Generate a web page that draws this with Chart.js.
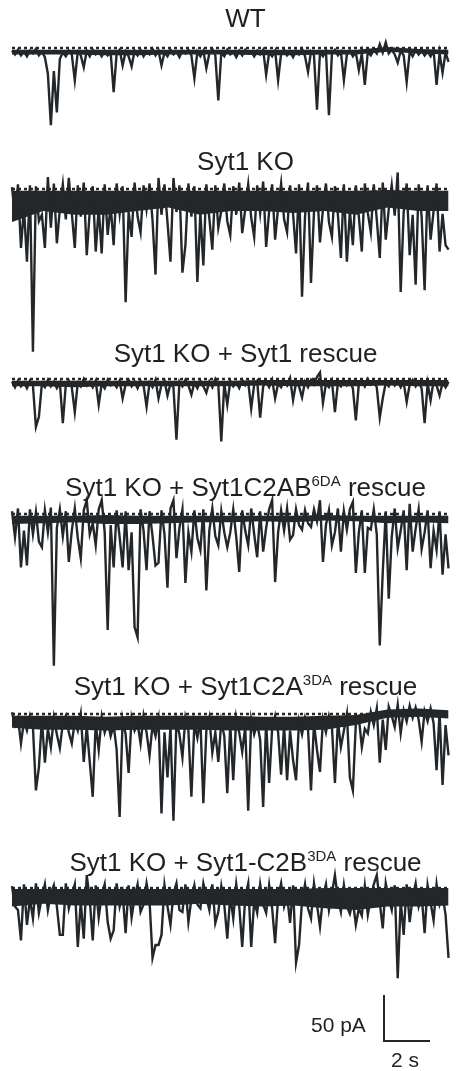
<!DOCTYPE html>
<html>
<head>
<meta charset="utf-8">
<script src="https://cdn.jsdelivr.net/npm/chart.js@4.4.0/dist/chart.umd.min.js"></script>
<style>
  body { margin: 0; background: #fff; }
  #wrap { position: relative; width: 459px; height: 1071px; overflow: hidden; }
  #fig { position: absolute; left: 0; top: 0; }
  .ttl { position: absolute; left: 16px; width: 459px; text-align: center; color: #231f20;
         font-family: "Liberation Sans", Arial, sans-serif; font-size: 26px; line-height: 26px;
         white-space: nowrap; }
  .ttl span { font-size: 15px; position: relative; top: -10px; }
  .lbl { position: absolute; color: #231f20; font-family: "Liberation Sans", Arial, sans-serif;
         font-size: 21px; line-height: 22px; }
</style>
</head>
<body>
<div id="wrap">
  <canvas id="fig" width="459" height="1071"></canvas>
  <div class="ttl" style="top:5px">WT</div>
  <div class="ttl" style="top:148px">Syt1 KO</div>
  <div class="ttl" style="top:340px">Syt1 KO + Syt1 rescue</div>
  <div class="ttl" style="top:474px">Syt1 KO + Syt1C2AB<span>6DA</span> rescue</div>
  <div class="ttl" style="top:673px">Syt1 KO + Syt1C2A<span>3DA</span> rescue</div>
  <div class="ttl" style="top:849px">Syt1 KO + Syt1-C2B<span>3DA</span> rescue</div>
  <div class="lbl" style="left:311px;top:1014px">50 pA</div>
  <div class="lbl" style="left:391px;top:1049px">2 s</div>
</div>
<script>
// sampling interval of the traces (s)
const dt = 0.13;
// sampling interval of the noise envelopes (s)
const bandDt = 1.36;

// currents in pA, relative to each trace's baseline
const wt = [-3, -7, -2, -8, -4, -9, -3, -6, -1, -8,
  -4, -10, -28, -84, -25, -70, -12, -5, -9, -3,
  -7, -35, -4, -8, -21, -3, -9, -2, -7, -4,
  -9, -3, -8, -5, -48, -6, -2, -19, -4, -9,
  -20, -3, -8, -2, -9, -4, -7, -1, -8, -3,
  -19, -5, -9, -2, -7, -4, -10, -3, -6, -2,
  -8, -33, -4, -9, -3, -22, -6, -1, -8, -57,
  -5, -9, -2, -7, -4, -10, -3, -8, -2, -6,
  -4, -9, -3, -7, -2, -29, -5, -9, -3, -35,
  -6, -2, -8, -4, -10, -3, -7, -1, -9, -26,
  -4, -8, -67, -5, -9, -3, -73, -6, -2, -8,
  -4, -35, -7, -3, -9, -5, -24, -6, -40, -4,
  -8, -2, -6, 4, -5, 6, -6, -2, -7, -16,
  -3, -8, -37, -4, -9, -2, -7, -3, -8, -4,
  -9, -3, -40, -6, -27, -5, -15];

const ko = [2, -30, 5, -64, -20, -79, 4, -177, 3, -35,
  -28, -64, 13, -42, 6, -59, -22, 5, -33, 12,
  -26, -64, 4, -30, 7, -72, -24, 3, -68, -20,
  -70, 5, -50, -18, -61, 6, -27, 3, -123, -25,
  -52, 7, -30, -47, 4, -22, 6, -34, -93, 12,
  -28, 5, -36, -79, 12, -25, 4, -91, -61, 6,
  -30, 3, -101, -26, -83, 5, -32, -66, 4, -42,
  -24, 6, -35, -50, 3, -28, 7, -48, -22, 5,
  -31, -52, 4, -26, 8, -63, -24, 5, -55, -20,
  6, -33, -47, 4, -27, -70, 5, -117, -30, 7,
  -102, -25, 4, -58, -22, 6, -36, -52, 3, -28,
  -75, 5, -79, -24, -61, 4, -30, -68, 6, -26,
  -47, 5, -33, -75, 7, -55, -22, 4, -29, 18,
  -112, -25, 6, -72, -28, -104, 5, -30, -110, 4,
  -55, -24, 6, -68, -27, -61, -66];

const rescue = [-3, -9, -2, -8, -4, -10, -2, -7, -52, -41,
  -5, -9, -1, -8, -3, -10, -4, -48, -6, -2,
  -9, -36, -4, -8, 0, -7, -3, -9, -2, -28,
  -5, -10, -1, -7, -4, -9, -2, -21, -6, -1,
  -8, -3, -10, -2, -7, -30, -4, -9, -1, -21,
  -6, -2, -18, -5, -9, -66, -3, -8, -1, -7,
  -17, -4, -10, -2, -8, -15, -3, -9, 0, -6,
  -68, -5, -28, -2, -8, -4, -10, -1, -7, -3,
  -32, -6, -2, -42, -8, -3, -9, -1, -21, -5,
  -9, -2, -7, 1, -23, -4, -8, -20, -3, -9,
  -1, -6, 2, 7, -26, -5, -9, -2, -36, -4,
  -8, -1, -7, -3, -10, -45, -5, -2, -8, 0,
  -6, -3, -9, -42, -21, -4, -8, -1, -7, -2,
  -9, -4, -25, -6, -1, -8, -3, -10, -48, -5,
  -23, -2, -7, -18, -4, -9, -3];

const c2ab6da = [3, -25, 6, -58, -18, -56, 5, -22, 2, -30,
  -36, 4, -20, 7, -165, -15, 5, -24, 3, -52,
  -18, 6, -26, -48, 4, 15, -22, -10, -34, 5,
  15, -20, -126, -12, -58, 4, -25, -58, 3, -61,
  -20, -123, -134, 5, -18, -61, 3, -24, -56, -53,
  4, -22, -80, 6, 15, -48, -15, 5, -75, -20,
  -41, 4, -26, -39, 5, -83, -18, 6, -24, -34,
  3, -20, -36, -20, 5, -25, -63, 4, -18, -34,
  6, -22, -47, 3, -41, -15, 5, 15, -74, -20,
  4, -18, 6, -28, -23, 5, -12, -17, 4, -10,
  -14, 5, -8, 15, -52, -12, 4, -34, -20, 6,
  -41, 3, -17, 5, 13, -64, -20, 4, -64, -15,
  -17, 5, -22, -143, -63, 3, -92, -25, 6, -37,
  -18, 4, -61, 11, -41, -16, 5, -38, -20, 4,
  -59, -18, -39, 3, -66, -22, -59];

const c2a3da = [2, -12, -4, -32, -8, -18, -2, -14, -83, -58,
  -6, -53, -16, -36, -4, -22, -37, -10, -2, -20,
  -32, -8, -18, 0, -52, -14, -52, -90, -10, -39,
  -3, -20, -8, -24, -12, -39, -112, -6, -22, -64,
  -4, -18, -10, -32, -2, -20, -45, -12, -24, -6,
  -108, -20, -69, -14, -116, -8, -22, -47, -4, -18,
  -90, -10, -26, -6, -97, -18, -4, -42, -20, -52,
  -8, -24, -86, -12, -72, -4, -20, -41, -14, -105,
  -6, -22, -10, -28, -101, -8, -75, -16, -2, -20,
  -66, -12, -72, -18, -50, -72, -8, -22, -4, -16,
  -83, -10, -39, -63, -6, -20, -2, -14, -75, -8,
  -36, -18, 0, -69, -83, -10, -4, -36, -16, -21,
  2, -12, 6, -53, -6, -39, 8, -2, -14, 10,
  -21, 4, -8, 9, -4, 7, -6, -30, 3, -8,
  6, -10, -61, 2, -77, -12, -45];

const c2b3da = [2, -20, -24, -57, 4, -40, -12, -33, 5, -27,
  -10, 4, -24, -6, 3, -20, -51, -51, 5, -22,
  -8, 4, -64, -15, -55, 14, -12, -57, 3, -32,
  -8, 4, -37, -55, -46, 5, -20, -6, -49, 3,
  -32, -10, 4, -26, -18, 5, -14, -76, -62, -62,
  -51, 3, -20, -40, -6, 5, -24, -26, 4, -37,
  -12, 3, -18, -22, 5, -10, -24, 4, -38, -26,
  2, -18, -55, -8, -33, 4, -20, -64, -10, 5,
  -64, -14, -27, 4, -18, -27, 3, -22, -60, -10,
  5, -20, -8, -38, 3, -81, -62, -14, 4, -22,
  -33, 5, -18, -42, -10, 4, -24, -6, 14, -12,
  -26, 3, -20, -28, -14, -40, -22, -30, 2, -29,
  -10, 4, 14, -16, -44, 5, -12, -24, 3, -98,
  -14, -51, 4, -37, -10, 5, -20, -8, -49, 3,
  -16, -35, 4, -18, -8, -29, -76];

// dense core of the noise in each trace (upper and lower edge, pA)
const wtTop = [-2, -2, -2, -2, -2, -2, -2, -2, -2, -2, -2, -2, 1, -1, -2];
const wtBot = [-7, -7, -7, -8, -8, -7, -7, -7, -8, -8, -7, -7, -4, -6, -7];
const koTop = [-2, -2, -2, -2, -2, -2, -2, -2, -2, -2, -2, -2, -1, -2, -2];
const koBot = [-36, -24, -28, -28, -24, -20, -28, -24, -24, -26, -24, -28, -20, -24, -24];
const rescueTop = [-2, -2, -2, -2, -2, -2, -2, -2, -1, -1, -1, -1, -1, -1, -1];
const rescueBot = [-8, -8, -9, -8, -8, -8, -8, -8, -7, -8, -8, -8, -7, -8, -8];
const c2abTop = [-2, -2, -2, -1, -2, -2, -2, -2, -2, -2, -1, -2, -2, -2, -2];
const c2abBot = [-11, -10, -9, -11, -11, -10, -9, -9, -8, -9, -7, -8, -10, -9, -10];
const c2aTop = [-2, -2, -2, -3, -2, -2, -2, -2, -3, -3, -2, -1, 5, 6, 4];
const c2aBot = [-15, -17, -17, -18, -17, -17, -17, -18, -18, -18, -17, -12, -4, -3, -5];
const c2bTop = [-1, -1, -1, -1, -1, -1, -1, -1, -1, -1, 0, 0, 0, 0, 0];
const c2bBot = [-20, -17, -19, -19, -19, -19, -17, -19, -20, -19, -22, -24, -20, -20, -19];

// scale bar
const barAmp = 50;   // pA
const barTime = 2;   // s

// page layout: 23 px per s, 0.92 px per pA
const pxPerS = 23, pxPerPA = 0.92, left = 12;
const traces = [
  { data: wt, top: wtTop, bot: wtBot, base: 48 },
  { data: ko, top: koTop, bot: koBot, base: 189 },
  { data: rescue, top: rescueTop, bot: rescueBot, base: 379 },
  { data: c2ab6da, top: c2abTop, bot: c2abBot, base: 514 },
  { data: c2a3da, top: c2aTop, bot: c2aBot, base: 714 },
  { data: c2b3da, top: c2bTop, bot: c2bBot, base: 888 }
];
const ink = '#24272a';

function series(arr, step, off, tMax) {
  return arr.map(function (v, i) { return { x: Math.min(i * step, tMax), y: off + v }; });
}

let datasets = [];
traces.forEach(function (tr) {
  const off = -tr.base / pxPerPA;
  const tEnd = (tr.data.length - 1) * dt;
  datasets.push({
    data: [{ x: 0, y: off }, { x: tEnd, y: off }],
    borderColor: ink, borderWidth: 2.4, borderDash: [3, 3], pointRadius: 0
  });
  datasets.push({
    data: series(tr.data, dt, off, tEnd),
    borderColor: ink, borderWidth: 2.4, pointRadius: 0, tension: 0
  });
  datasets.push({
    data: series(tr.top, bandDt, off, tEnd),
    borderWidth: 0, pointRadius: 0, fill: false
  });
  datasets.push({
    data: series(tr.bot, bandDt, off, tEnd),
    borderWidth: 0, pointRadius: 0, fill: '-1', backgroundColor: ink
  });
});

const barT = (384 - left) / pxPerS;
const barY = -1041 / pxPerPA;
datasets.push({
  data: [{ x: barT, y: barY + barAmp }, { x: barT, y: barY }, { x: barT + barTime, y: barY }],
  borderColor: ink, borderWidth: 2, pointRadius: 0
});

new Chart(document.getElementById('fig'), {
  type: 'line',
  data: { datasets: datasets },
  options: {
    responsive: false,
    animation: false,
    layout: { padding: 0 },
    plugins: { legend: { display: false }, tooltip: { enabled: false } },
    scales: {
      x: { type: 'linear', display: false, min: -left / pxPerS, max: (459 - left) / pxPerS },
      y: { type: 'linear', display: false, min: -1071 / pxPerPA, max: 0 }
    }
  }
});
</script>
</body>
</html>
